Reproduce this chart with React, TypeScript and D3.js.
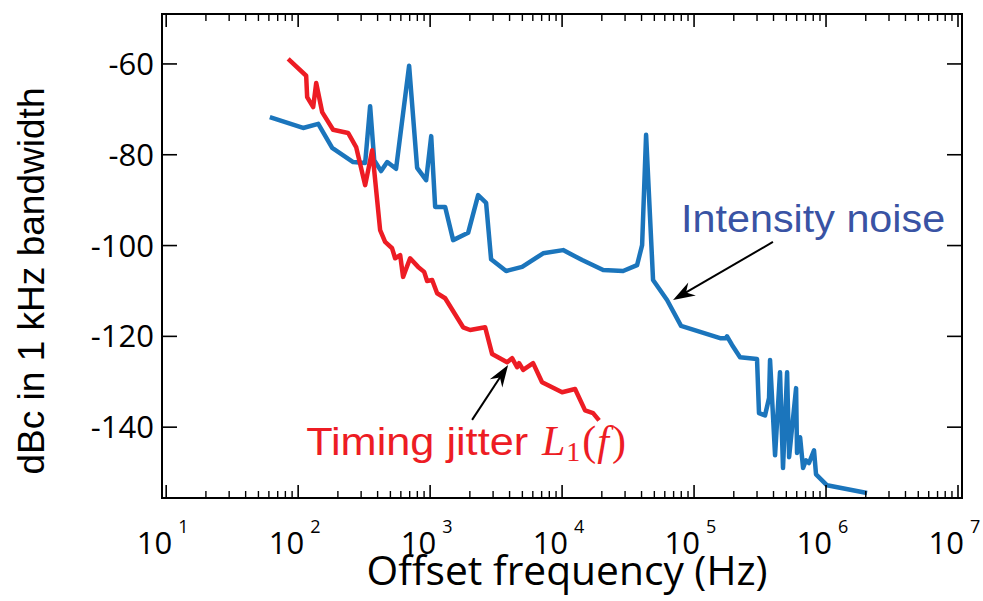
import React from 'react';
import * as d3 from 'd3';

// Intensity noise (blue)
const blueFreq = [61, 109, 142, 181, 261, 322, 351, 377, 425, 473, 552, 693, 797, 933, 1019, 1092, 1300, 1494, 1941, 2311, 2656, 2897, 3766, 4980, 7185, 10180, 14190, 20470, 28990, 37000, 40400, 43300, 48900, 62400, 79700, 157400, 174000, 177800, 194000, 223000, 300000, 310500, 345000, 370000, 376500, 411000, 448000, 472000, 507000, 525000, 593000, 603000, 636000, 670000, 705000, 743000, 811000, 840000, 1018000, 2046000];
const blueDb = [-71.7, -74.1, -73.2, -78.5, -81.6, -81.8, -69.3, -81.2, -83.6, -81.6, -83.1, -60.4, -82.9, -85.6, -75.9, -91.5, -91.5, -98.8, -97.2, -88.9, -90.6, -103.0, -105.6, -104.7, -101.7, -101.0, -103.2, -105.4, -105.6, -104.3, -99.9, -75.6, -107.6, -112.0, -117.7, -120.4, -120.4, -120.0, -121.9, -124.6, -125.0, -136.9, -137.4, -133.6, -125.2, -146.2, -127.9, -149.0, -127.9, -146.6, -131.4, -145.7, -142.2, -149.0, -147.3, -147.9, -145.1, -150.4, -152.8, -154.5];

// Timing jitter (red)
const redFreq = [84, 115, 117, 130, 137, 152, 184, 239, 275, 322, 364, 418, 456, 515, 543, 593, 624, 705, 811, 901, 949, 1036, 1130, 1300, 1779, 2010, 2612, 2951, 3831, 4180, 4562, 4724, 5070, 6030, 7050, 10000, 12540, 14930, 17170, 19070];
const redDb = [-58.9, -62.6, -67.3, -69.5, -64.2, -70.6, -74.5, -75.2, -78.3, -86.7, -79.0, -96.6, -99.2, -100.6, -102.8, -102.1, -106.9, -102.8, -104.7, -105.8, -107.8, -107.6, -110.5, -111.6, -118.0, -118.6, -118.0, -123.9, -125.7, -124.8, -126.8, -125.9, -127.4, -125.9, -130.1, -132.3, -131.6, -136.3, -136.9, -138.5];

const yTicks = [-60, -80, -100, -120, -140];
const xDecades = [1, 2, 3, 4, 5, 6, 7];
const minorMultipliers = [2, 3, 4, 5, 6, 7, 8, 9];

const xLabel = 'Offset frequency (Hz)';
const yLabel = 'dBc in 1 kHz bandwidth';

const W = 983;
const H = 601;

export default function App() {
  const x = d3.scaleLog().domain([9.295, 1.0723e7]).range([162, 962]);
  const y = d3.scaleLinear().domain([-49, -155.6]).range([14, 498]);
  const [x0, x1] = x.range();
  const [y0, y1] = y.range();

  const line = d3
    .line<[number, number]>()
    .x((d) => x(d[0]))
    .y((d) => y(d[1]));

  const blue: [number, number][] = blueFreq.map((f, i) => [f, blueDb[i]]);
  const red: [number, number][] = redFreq.map((f, i) => [f, redDb[i]]);

  const minors: number[] = [];
  xDecades.slice(0, -1).forEach((d) => minorMultipliers.forEach((m) => minors.push(m * Math.pow(10, d))));

  const arrowHead = (tx: number, ty: number, fx: number, fy: number) => {
    const ang = Math.atan2(ty - fy, tx - fx);
    const L = 22, hw = 7.5, notch = 15;
    const ca = Math.cos(ang), sa = Math.sin(ang);
    const pt = (along: number, perp: number) => [tx - along * ca - perp * sa, ty - along * sa + perp * ca];
    const a = pt(L, hw), b = pt(notch, 0), c = pt(L, -hw);
    return `M${tx},${ty}L${a[0]},${a[1]}L${b[0]},${b[1]}L${c[0]},${c[1]}Z`;
  };

  const arrows = [
    { from: [396000, -99.2], to: [69300, -112.0] },
    { from: [2080, -138.4], to: [3900, -126.3] },
  ];

  const tickFont = "'Open Sans', 'Liberation Sans', sans-serif";
  const narrowFont = "'Liberation Sans Narrow', 'Open Sans', sans-serif";

  return (
    <svg width={W} height={H} style={{ position: 'absolute', left: 0, top: 0, background: '#fff' }}>
      <rect x={0} y={0} width={W} height={H} fill="#fff" />
      {/* data lines */}
      <path d={line(blue) || ''} fill="none" stroke="#1b75bc" strokeWidth={4.5} strokeLinejoin="round" />
      <path d={line(red) || ''} fill="none" stroke="#ed1c24" strokeWidth={4.5} strokeLinejoin="round" />

      {/* frame */}
      <rect x={x0} y={y0} width={x1 - x0} height={y1 - y0} fill="none" stroke="#000" strokeWidth={2} />

      {/* x ticks */}
      {xDecades.map((d) => {
        const px = x(Math.pow(10, d));
        return (
          <g key={'xM' + d}>
            <line x1={px} x2={px} y1={y1} y2={y1 - 13} stroke="#000" strokeWidth={1.6} />
            <line x1={px} x2={px} y1={y0} y2={y0 + 13} stroke="#000" strokeWidth={1.6} />
            <text x={px + 6} y={554} textAnchor="end" fontFamily={narrowFont} fontSize={31} fill="#000">
              10
            </text>
            <text x={px + 12} y={533} fontFamily={narrowFont} fontSize={18} fill="#000">
              {d}
            </text>
          </g>
        );
      })}
      {minors.map((v) => {
        const px = x(v);
        return (
          <g key={'xm' + v}>
            <line x1={px} x2={px} y1={y1} y2={y1 - 7} stroke="#000" strokeWidth={1.4} />
            <line x1={px} x2={px} y1={y0} y2={y0 + 7} stroke="#000" strokeWidth={1.4} />
          </g>
        );
      })}

      {/* y ticks */}
      {yTicks.map((t) => {
        const py = y(t);
        return (
          <g key={'y' + t}>
            <line x1={x0} x2={x0 + 15} y1={py} y2={py} stroke="#000" strokeWidth={1.6} />
            <line x1={x1} x2={x1 - 15} y1={py} y2={py} stroke="#000" strokeWidth={1.6} />
            <text x={x0 - 8} y={py + 11} textAnchor="end" fontFamily={tickFont} fontSize={31} fill="#000">
              {t}
            </text>
          </g>
        );
      })}

      {/* axis labels */}
      <text
        x={567}
        y={585}
        textAnchor="middle"
        fontFamily={tickFont}
        fontSize={41}
        textLength={401}
        lengthAdjust="spacingAndGlyphs"
        fill="#000"
      >
        {xLabel}
      </text>
      <text
        transform="translate(44,281) rotate(-90)"
        textAnchor="middle"
        fontFamily="'Liberation Sans', Arial, sans-serif"
        fontSize={37}
        textLength={387}
        lengthAdjust="spacingAndGlyphs"
        fill="#000"
      >
        {yLabel}
      </text>

      {/* annotations */}
      {arrows.map((a, i) => {
        const fx = x(a.from[0]), fy = y(a.from[1]);
        const tx = x(a.to[0]), ty = y(a.to[1]);
        return (
          <g key={'arr' + i}>
            <line x1={fx} y1={fy} x2={tx + (fx - tx) * 0.1} y2={ty + (fy - ty) * 0.1} stroke="#000" strokeWidth={2} />
            <path d={arrowHead(tx, ty, fx, fy)} fill="#000" />
          </g>
        );
      })}
      <text
        x={x(79800)}
        y={y(-97.0)}
        fontFamily="'Liberation Sans', Arial, sans-serif"
        fontSize={38}
        textLength={264}
        lengthAdjust="spacingAndGlyphs"
        fill="#3953a4"
      >
        Intensity noise
      </text>
      <text
        x={x(115)}
        y={y(-146.1)}
        fontFamily="'Liberation Sans', Arial, sans-serif"
        fontSize={38}
        textLength={222}
        lengthAdjust="spacingAndGlyphs"
        fill="#ed1c24"
      >
        Timing jitter
      </text>
      <text x={542} y={y(-146.1)} fontFamily="'Liberation Serif', 'DejaVu Serif', serif" fontSize={42} fill="#ed1c24">
        <tspan fontStyle="italic">L</tspan>
        <tspan fontSize={28} dy={6} dx={1}>1</tspan>
        <tspan dy={-6} dx={2}>(</tspan>
        <tspan fontStyle="italic" dx={1}>f</tspan>
        <tspan dx={3}>)</tspan>
      </text>
    </svg>
  );
}
